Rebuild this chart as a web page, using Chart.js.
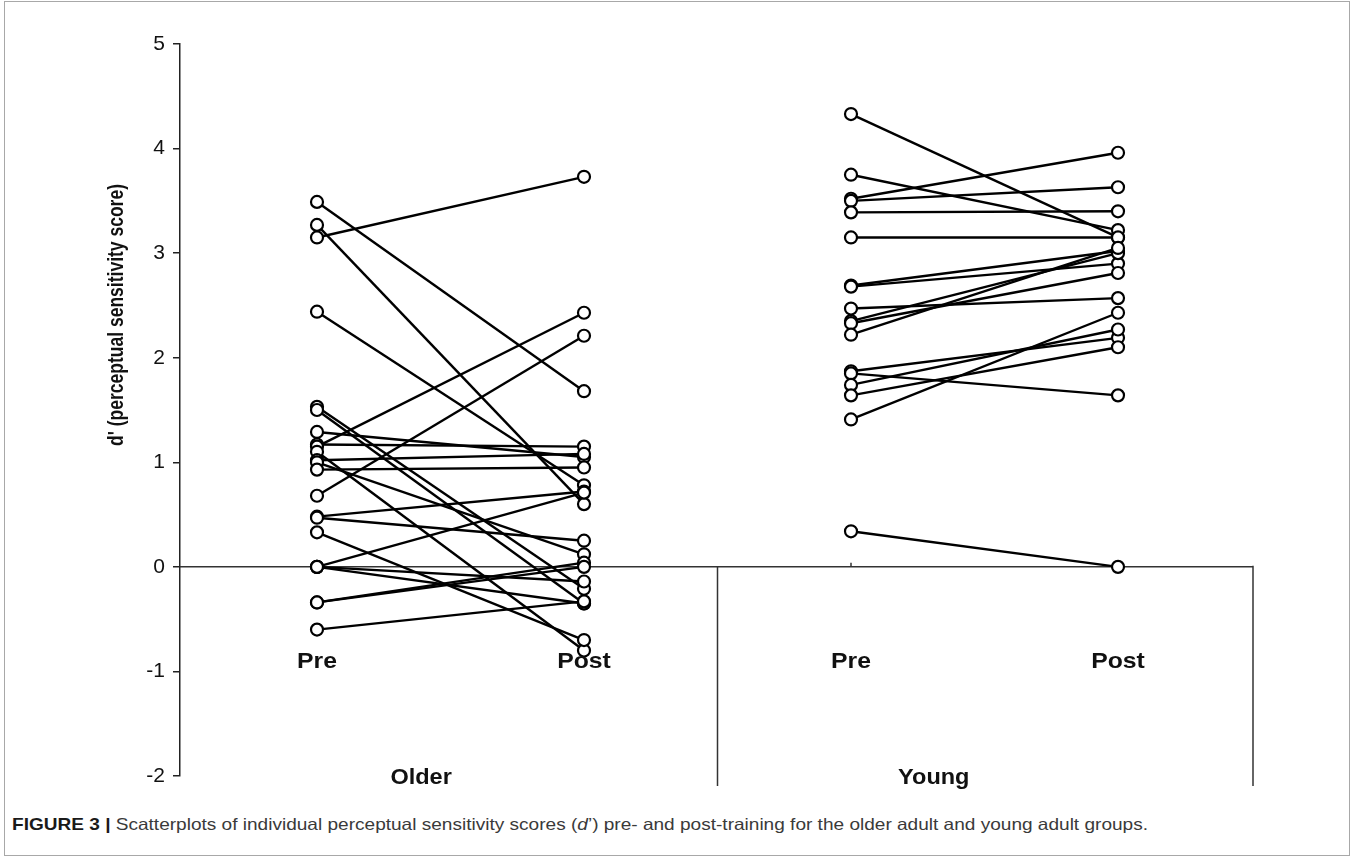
<!DOCTYPE html>
<html>
<head>
<meta charset="utf-8">
<script src="https://cdn.jsdelivr.net/npm/chart.js@4/dist/chart.umd.min.js"></script>
<style>
  html, body { margin: 0; padding: 0; background: #fff; }
  #wrap { position: relative; width: 1357px; height: 860px; overflow: hidden; }
  #frame { position: absolute; left: 4px; top: 1px; width: 1346px; height: 855px; border: 1px solid #a8a8a8; box-sizing: border-box; }
  #cv { position: absolute; left: 0; top: 0; }
  #caption { position: absolute; left: 12px; top: 815px; font-family: "Liberation Sans", Arial, sans-serif; font-size: 16.5px; color: #3a3a3a; white-space: nowrap; transform-origin: 0 50%; }
  #caption b { color: #1a1a1a; }
</style>
</head>
<body>
<div id="wrap">
  <div id="frame"></div>
  <canvas id="cv" width="1357" height="800"></canvas>
  <div id="caption"><b>FIGURE 3 |</b> Scatterplots of individual perceptual sensitivity scores (<i>d</i>’) pre- and post-training for the older adult and young adult groups.</div>
</div>
<script>
// ---- data ----
const categories = ['Pre', 'Post', 'Pre', 'Post'];
const groups = ['Older', 'Young'];
const yTickValues = [-2, -1, 0, 1, 2, 3, 4, 5];
const yTitle = "d' (perceptual sensitivity score)";

const olderPre  = [3.49, 3.27, 3.15, 2.44, 1.53, 1.50, 1.29, 1.17, 1.15, 1.10, 1.02, 1.00, 0.93, 0.68, 0.48, 0.47, 0.33, 0.00, 0.00, 0.00, -0.34, -0.34, -0.60];
const olderPost = [1.68, 0.60, 3.73, 0.78, -0.21, -0.35, 1.05, 1.15, 2.43, -0.80, 1.08, 0.12, 0.95, 2.21, 0.72, 0.25, -0.70, 0.71, -0.35, -0.14, 0.04, 0.00, -0.33];

const youngPre  = [4.33, 3.75, 3.52, 3.50, 3.39, 3.15, 2.69, 2.68, 2.47, 2.35, 2.33, 2.22, 1.87, 1.85, 1.74, 1.64, 1.41, 0.34];
const youngPost = [3.15, 3.22, 3.96, 3.63, 3.40, 3.15, 3.02, 2.90, 2.57, 3.00, 2.81, 3.05, 2.19, 1.64, 2.27, 2.10, 2.43, 0.00];

// x positions of the four categories
const catX = [1, 2, 3, 4];
const groupLabelX = [1.39, 3.31];
const dividerX = 2.5;

// ---- datasets ----
const datasets = [];
function addPairs(pre, post, xPre, xPost) {
  for (let i = 0; i < pre.length; i++) {
    datasets.push({
      data: [{ x: xPre, y: pre[i] }, { x: xPost, y: post[i] }],
      showLine: true,
      borderColor: '#000',
      borderWidth: 2.4,
      pointRadius: 0,
      pointHoverRadius: 0,
      order: 2
    });
  }
}
addPairs(olderPre, olderPost, catX[0], catX[1]);
addPairs(youngPre, youngPost, catX[2], catX[3]);

function pts(vals, x) { return vals.map(v => ({ x: x, y: v })); }
const allPoints = [].concat(
  pts(olderPre, catX[0]), pts(olderPost, catX[1]),
  pts(youngPre, catX[2]), pts(youngPost, catX[3])
);
datasets.push({
  data: allPoints,
  showLine: false,
  pointRadius: 6,
  pointBorderWidth: 2.2,
  pointBackgroundColor: '#fff',
  pointBorderColor: '#000',
  order: 1
});

const FONT = '"Liberation Sans", Arial, Helvetica, sans-serif';

const decor = {
  id: 'decor',
  beforeDatasetsDraw(chart) {
    const ctx = chart.ctx, x = chart.scales.x, y = chart.scales.y;
    const a = chart.chartArea;
    const y0 = y.getPixelForValue(0);
    ctx.save();
    ctx.strokeStyle = '#333';
    ctx.lineWidth = 1.5;
    ctx.beginPath();
    ctx.moveTo(a.left, y0); ctx.lineTo(a.right, y0);
    ctx.stroke();
    [dividerX].forEach(v => {
      const px = x.getPixelForValue(v);
      ctx.beginPath(); ctx.moveTo(px, y0); ctx.lineTo(px, a.bottom + 10); ctx.stroke();
    });
    ctx.beginPath(); ctx.moveTo(a.right, y0 - 1); ctx.lineTo(a.right, a.bottom + 10); ctx.stroke();
    catX.forEach(v => {
      const px = x.getPixelForValue(v);
      ctx.beginPath(); ctx.moveTo(px, y0); ctx.lineTo(px, y0 - 4); ctx.stroke();
    });
    ctx.restore();
  },
  afterDraw(chart) {
    const ctx = chart.ctx, x = chart.scales.x, y = chart.scales.y;
    const y0 = y.getPixelForValue(0);
    ctx.save();
    ctx.fillStyle = '#111';
    ctx.textAlign = 'center';
    ctx.textBaseline = 'middle';
    ctx.font = 'bold 21px ' + FONT;
    categories.forEach((c, i) => {
      const px = x.getPixelForValue(catX[i]);
      ctx.save();
      ctx.translate(px, y0 + 95);
      ctx.scale(1.18, 1.02);
      ctx.fillText(c, 0, 0);
      ctx.restore();
    });
    groups.forEach((g, i) => {
      const px = x.getPixelForValue(groupLabelX[i]);
      ctx.save();
      ctx.translate(px, y0 + 211);
      ctx.scale(1.12, 1.02);
      ctx.fillText(g, 0, 0);
      ctx.restore();
    });
    ctx.font = 'bold 18px ' + FONT;
    const w = ctx.measureText(yTitle).width;
    ctx.translate(117, 315);
    ctx.rotate(-Math.PI / 2);
    ctx.scale(262 / w, 1.22);
    ctx.fillText(yTitle, 0, 0);
    ctx.restore();
  }
};

new Chart(document.getElementById('cv'), {
  type: 'scatter',
  data: { datasets: datasets },
  plugins: [decor],
  options: {
    responsive: false,
    animation: false,
    devicePixelRatio: 1,
    layout: { padding: { left: 0, top: 44, right: 104, bottom: 24 } },
    plugins: { legend: { display: false }, tooltip: { enabled: false } },
    scales: {
      x: {
        type: 'linear',
        display: false,
        min: 0.4869,
        max: 4.5056
      },
      y: {
        type: 'linear',
        min: -2,
        max: 5,
        afterFit(scale) { scale.width = 180; },
        afterBuildTicks(scale) { scale.ticks = yTickValues.map(v => ({ value: v })); },
        border: { display: true, color: '#222', width: 1.5 },
        grid: { drawOnChartArea: false, drawTicks: true, tickLength: 7, color: '#222', lineWidth: 1.5 },
        ticks: {
          padding: 8,
          color: '#111',
          font: { family: FONT, size: 21 },
          callback: v => String(v)
        }
      }
    }
  }
});

// stretch caption to the reference's width
const cap = document.getElementById('caption');
const cw = cap.getBoundingClientRect().width;
cap.style.transform = 'scaleX(' + (1136 / cw) + ')';
</script>
</body>
</html>
